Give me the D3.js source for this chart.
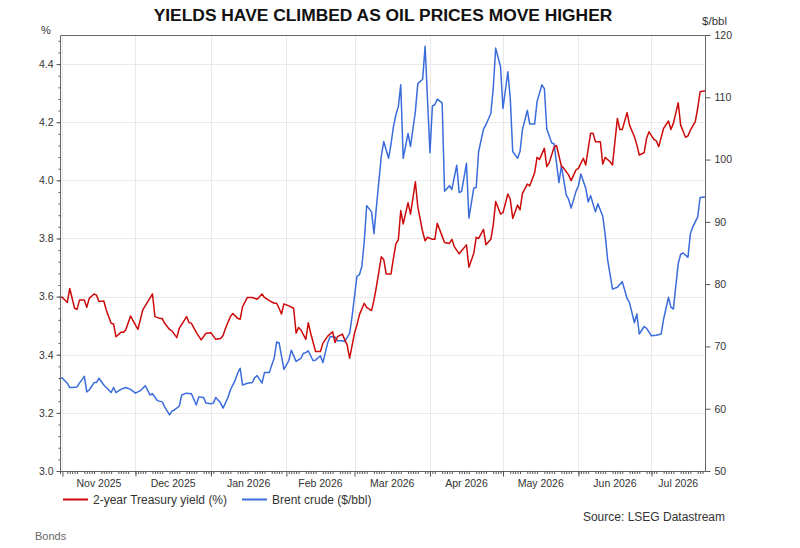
<!DOCTYPE html>
<html>
<head>
<meta charset="utf-8">
<script src="https://cdn.jsdelivr.net/npm/d3@7"></script>
<style>
    body { margin: 0; background: #fff; }
    svg { font-family: "Liberation Sans", Arial, sans-serif; }
    .axis path.domain { display: none; }
    .axis line { stroke: #555; }
    .axis text { fill: #333; font-size: 10.5px; }
</style>
</head>
<body>
<div id="chart"></div>
<script>
var chartTitle = "YIELDS HAVE CLIMBED AS OIL PRICES MOVE HIGHER";
var yieldName = "2-year Treasury yield (%)";
var brentName = "Brent crude ($/bbl)";

var dateStart = "2025-10-31";
var dateEnd = "2026-07-23";

var yieldTicks = [3.0, 3.2, 3.4, 3.6, 3.8, 4.0, 4.2, 4.4];
var brentTicks = [50, 60, 70, 80, 90, 100, 110, 120];
var monthStarts = ["2025-11-01", "2025-12-01", "2026-01-01", "2026-02-01", "2026-03-01",
                   "2026-04-01", "2026-05-01", "2026-06-01", "2026-07-01"];
var monthLabels = ["Nov 2025", "Dec 2025", "Jan 2026", "Feb 2026", "Mar 2026",
                   "Apr 2026", "May 2026", "Jun 2026", "Jul 2026"];

// 2-year Treasury yield, %
var yieldData = [
    ["2025-10-31",3.600],["2025-11-01",3.597],["2025-11-03",3.580],["2025-11-04",3.628],["2025-11-06",3.560],
    ["2025-11-07",3.556],["2025-11-08",3.588],["2025-11-10",3.588],["2025-11-11",3.563],["2025-11-12",3.594],
    ["2025-11-14",3.609],["2025-11-15",3.605],["2025-11-16",3.583],["2025-11-18",3.585],["2025-11-19",3.554],
    ["2025-11-21",3.508],["2025-11-22",3.506],["2025-11-23",3.462],["2025-11-25",3.477],["2025-11-26",3.477],
    ["2025-11-27",3.485],["2025-11-29",3.533],["2025-12-02",3.487],["2025-12-04",3.554],["2025-12-08",3.609],
    ["2025-12-09",3.531],["2025-12-11",3.525],["2025-12-12",3.525],["2025-12-13",3.508],["2025-12-15",3.487],
    ["2025-12-16",3.482],["2025-12-18",3.459],["2025-12-19",3.491],["2025-12-22",3.531],["2025-12-23",3.511],
    ["2025-12-24",3.508],["2025-12-26",3.477],["2025-12-28",3.451],["2025-12-30",3.474],["2026-01-01",3.476],
    ["2026-01-03",3.453],["2026-01-05",3.456],["2026-01-06",3.466],["2026-01-07",3.491],["2026-01-09",3.531],
    ["2026-01-10",3.542],["2026-01-12",3.525],["2026-01-13",3.522],["2026-01-14",3.565],["2026-01-16",3.597],
    ["2026-01-18",3.597],["2026-01-20",3.591],["2026-01-22",3.609],["2026-01-23",3.597],["2026-01-25",3.586],
    ["2026-01-27",3.577],["2026-01-28",3.577],["2026-01-29",3.560],["2026-01-30",3.540],["2026-01-31",3.575],
    ["2026-02-02",3.568],["2026-02-04",3.560],["2026-02-05",3.474],["2026-02-06",3.494],["2026-02-07",3.485],
    ["2026-02-09",3.453],["2026-02-10",3.510],["2026-02-11",3.474],["2026-02-13",3.411],["2026-02-15",3.411],
    ["2026-02-16",3.439],["2026-02-18",3.464],["2026-02-20",3.479],["2026-02-21",3.442],["2026-02-22",3.462],
    ["2026-02-24",3.471],["2026-02-26",3.433],["2026-02-27",3.388],["2026-03-01",3.474],["2026-03-02",3.502],
    ["2026-03-03",3.537],["2026-03-05",3.577],["2026-03-06",3.563],["2026-03-08",3.552],["2026-03-09",3.588],
    ["2026-03-10",3.634],["2026-03-12",3.737],["2026-03-13",3.728],["2026-03-14",3.678],["2026-03-16",3.678],
    ["2026-03-17",3.732],["2026-03-18",3.781],["2026-03-19",3.795],["2026-03-20",3.896],["2026-03-21",3.850],
    ["2026-03-23",3.923],["2026-03-24",3.884],["2026-03-26",3.995],["2026-03-27",3.909],["2026-03-29",3.823],
    ["2026-03-30",3.792],["2026-03-31",3.804],["2026-04-02",3.797],["2026-04-03",3.797],["2026-04-04",3.852],
    ["2026-04-06",3.808],["2026-04-07",3.786],["2026-04-09",3.783],["2026-04-10",3.797],["2026-04-11",3.772],
    ["2026-04-13",3.747],["2026-04-14",3.758],["2026-04-16",3.778],["2026-04-17",3.701],["2026-04-19",3.749],
    ["2026-04-20",3.804],["2026-04-21",3.800],["2026-04-23",3.831],["2026-04-24",3.778],["2026-04-26",3.797],
    ["2026-04-27",3.846],["2026-04-28",3.927],["2026-04-30",3.884],["2026-05-01",3.889],["2026-05-03",3.953],
    ["2026-05-04",3.935],["2026-05-05",3.869],["2026-05-07",3.915],["2026-05-08",3.898],["2026-05-09",3.955],
    ["2026-05-11",3.987],["2026-05-12",3.981],["2026-05-14",4.026],["2026-05-15",4.079],["2026-05-16",4.072],
    ["2026-05-18",4.110],["2026-05-19",4.047],["2026-05-20",4.061],["2026-05-22",4.114],["2026-05-23",4.120],
    ["2026-05-25",4.049],["2026-05-26",4.041],["2026-05-28",4.018],["2026-05-29",3.999],["2026-05-31",4.036],
    ["2026-06-01",4.041],["2026-06-03",4.076],["2026-06-04",4.053],["2026-06-06",4.162],["2026-06-07",4.162],
    ["2026-06-08",4.133],["2026-06-10",4.133],["2026-06-11",4.056],["2026-06-12",4.079],["2026-06-14",4.064],
    ["2026-06-15",4.053],["2026-06-17",4.213],["2026-06-18",4.175],["2026-06-19",4.175],["2026-06-21",4.233],
    ["2026-06-22",4.190],["2026-06-24",4.150],["2026-06-25",4.122],["2026-06-26",4.087],["2026-06-28",4.095],
    ["2026-06-29",4.145],["2026-06-30",4.167],["2026-07-02",4.141],["2026-07-03",4.136],["2026-07-04",4.116],
    ["2026-07-06",4.179],["2026-07-08",4.204],["2026-07-09",4.175],["2026-07-10",4.196],["2026-07-12",4.267],
    ["2026-07-13",4.190],["2026-07-15",4.148],["2026-07-16",4.153],["2026-07-17",4.173],["2026-07-19",4.202],
    ["2026-07-20",4.248],["2026-07-21",4.305],["2026-07-23",4.308]
];

// Brent crude, $/bbl
var brentData = [
    ["2025-10-31",65.0],["2025-11-01",64.9],["2025-11-03",64.1],["2025-11-04",63.4],["2025-11-05",63.4],
    ["2025-11-07",63.5],["2025-11-08",64.1],["2025-11-10",65.2],["2025-11-11",62.7],["2025-11-12",63.0],
    ["2025-11-14",64.2],["2025-11-15",64.2],["2025-11-16",64.9],["2025-11-18",63.8],["2025-11-19",63.4],
    ["2025-11-21",62.6],["2025-11-22",63.4],["2025-11-23",62.6],["2025-11-25",63.1],["2025-11-27",63.4],
    ["2025-11-29",63.1],["2025-12-01",62.5],["2025-12-03",62.9],["2025-12-05",63.7],["2025-12-07",62.2],
    ["2025-12-08",62.4],["2025-12-10",61.3],["2025-12-12",61.1],["2025-12-13",60.3],["2025-12-15",59.0],
    ["2025-12-16",59.6],["2025-12-17",59.8],["2025-12-19",60.4],["2025-12-20",62.2],["2025-12-22",62.5],
    ["2025-12-24",62.4],["2025-12-26",60.6],["2025-12-27",61.9],["2025-12-29",61.8],["2025-12-30",60.9],
    ["2026-01-01",60.8],["2026-01-02",60.9],["2026-01-03",61.8],["2026-01-05",60.9],["2026-01-06",60.1],
    ["2026-01-08",61.8],["2026-01-09",63.0],["2026-01-11",64.6],["2026-01-12",65.7],["2026-01-13",66.5],
    ["2026-01-14",63.8],["2026-01-16",64.1],["2026-01-18",64.2],["2026-01-19",65.0],["2026-01-20",65.3],
    ["2026-01-22",64.1],["2026-01-23",65.8],["2026-01-25",65.8],["2026-01-26",67.0],["2026-01-27",68.1],
    ["2026-01-28",70.7],["2026-01-29",70.6],["2026-01-31",66.3],["2026-02-02",67.7],["2026-02-03",69.4],
    ["2026-02-05",67.6],["2026-02-07",68.1],["2026-02-08",68.9],["2026-02-09",69.0],["2026-02-10",69.3],
    ["2026-02-12",67.7],["2026-02-13",67.8],["2026-02-15",68.5],["2026-02-16",67.4],["2026-02-18",70.6],
    ["2026-02-19",71.6],["2026-02-21",71.5],["2026-02-22",70.9],["2026-02-24",70.9],["2026-02-25",70.8],
    ["2026-02-27",72.1],["2026-02-28",74.8],["2026-03-02",81.3],["2026-03-03",81.5],["2026-03-04",82.8],
    ["2026-03-05",86.8],["2026-03-06",92.6],["2026-03-08",91.6],["2026-03-09",88.1],["2026-03-10",92.4],
    ["2026-03-12",100.5],["2026-03-13",102.9],["2026-03-15",100.2],["2026-03-16",102.5],["2026-03-17",105.3],
    ["2026-03-18",107.2],["2026-03-19",108.5],["2026-03-20",112.0],["2026-03-21",100.2],["2026-03-23",104.2],
    ["2026-03-24",102.1],["2026-03-26",107.7],["2026-03-27",112.2],["2026-03-29",112.9],["2026-03-30",118.2],
    ["2026-04-01",101.1],["2026-04-02",108.6],["2026-04-03",108.8],["2026-04-04",109.7],["2026-04-06",109.1],
    ["2026-04-07",94.9],["2026-04-09",95.8],["2026-04-10",95.2],["2026-04-12",99.1],["2026-04-13",94.7],
    ["2026-04-14",94.9],["2026-04-16",99.4],["2026-04-17",90.6],["2026-04-19",95.4],["2026-04-20",95.5],
    ["2026-04-21",101.3],["2026-04-23",104.9],["2026-04-24",105.6],["2026-04-26",107.4],["2026-04-27",111.4],
    ["2026-04-28",117.9],["2026-04-30",114.9],["2026-05-01",108.2],["2026-05-03",114.1],["2026-05-04",109.8],
    ["2026-05-05",101.3],["2026-05-07",100.2],["2026-05-08",101.3],["2026-05-09",104.8],["2026-05-11",107.9],
    ["2026-05-12",105.7],["2026-05-14",105.7],["2026-05-15",109.3],["2026-05-17",112.0],["2026-05-18",111.4],
    ["2026-05-19",104.9],["2026-05-21",102.7],["2026-05-22",102.5],["2026-05-24",96.3],["2026-05-25",99.0],
    ["2026-05-27",94.3],["2026-05-28",93.6],["2026-05-29",92.2],["2026-05-31",94.9],["2026-06-01",95.8],
    ["2026-06-02",97.7],["2026-06-04",95.4],["2026-06-05",93.2],["2026-06-06",94.2],["2026-06-08",91.6],
    ["2026-06-09",92.9],["2026-06-11",90.9],["2026-06-12",87.9],["2026-06-13",83.9],["2026-06-15",79.2],
    ["2026-06-17",79.5],["2026-06-19",80.4],["2026-06-21",77.7],["2026-06-22",77.0],["2026-06-24",73.8],
    ["2026-06-25",75.2],["2026-06-26",72.0],["2026-06-28",73.2],["2026-06-29",72.9],["2026-07-01",71.7],
    ["2026-07-03",71.8],["2026-07-05",72.0],["2026-07-06",74.4],["2026-07-08",77.9],["2026-07-09",76.3],
    ["2026-07-10",76.0],["2026-07-12",83.3],["2026-07-13",84.8],["2026-07-14",85.0],["2026-07-16",84.3],
    ["2026-07-17",88.1],["2026-07-18",89.2],["2026-07-20",90.8],["2026-07-21",93.9],["2026-07-23",94.0]
];

var yieldColor = "#cc0a0a";
var brentColor = "#3a6cdb";

function drawChart() {
    const width = 800;
    const height = 548;
    const left = 60, right = 705, top = 35, bottom = 471;

    var parseDate = d3.timeParse("%Y-%m-%d");
    var start = parseDate(dateStart);
    var end = parseDate(dateEnd);

    const xScale = d3.scaleTime().domain([start, end]).range([left, right]);
    const yLeft = d3.scaleLinear().domain([3.0, 4.5]).range([bottom, top]);
    const yRight = d3.scaleLinear().domain([50, 120]).range([bottom, top]);

    var svg = d3.select("#chart")
        .append("svg")
        .attr("width", width)
        .attr("height", height)
        .attr("viewBox", "0 0 " + width + " " + height);

    svg.append("defs").append("clipPath")
        .attr("id", "plot-clip")
        .append("rect")
        .attr("x", left).attr("y", top)
        .attr("width", right - left).attr("height", bottom - top);

    // gridlines
    var grid = svg.append("g").attr("stroke", "#e9e9e9").attr("stroke-width", 1);
    grid.selectAll("line.h")
        .data(yieldTicks.filter(d => d > 3.0))
        .enter()
        .append("line")
        .attr("x1", left).attr("x2", right)
        .attr("y1", d => Math.round(yLeft(d)) + 0.5)
        .attr("y2", d => Math.round(yLeft(d)) + 0.5);
    grid.selectAll("line.v")
        .data(monthStarts)
        .enter()
        .append("line")
        .attr("y1", top).attr("y2", bottom)
        .attr("x1", d => Math.round(xScale(parseDate(d))) + 0.5)
        .attr("x2", d => Math.round(xScale(parseDate(d))) + 0.5);

    // series lines
    var yieldLine = d3.line()
        .x(d => xScale(parseDate(d[0])))
        .y(d => yLeft(d[1]));
    var brentLine = d3.line()
        .x(d => xScale(parseDate(d[0])))
        .y(d => yRight(d[1]));

    var lines = svg.append("g").attr("clip-path", "url(#plot-clip)");
    lines.append("path")
        .datum(brentData)
        .attr("d", brentLine)
        .attr("fill", "none")
        .attr("stroke", brentColor)
        .attr("stroke-width", 1.5)
        .attr("stroke-linejoin", "round");
    lines.append("path")
        .datum(yieldData)
        .attr("d", yieldLine)
        .attr("fill", "none")
        .attr("stroke", yieldColor)
        .attr("stroke-width", 1.5)
        .attr("stroke-linejoin", "round");

    // frame
    svg.append("path")
        .attr("d", "M" + (left + 0.5) + "," + (bottom + 0.5) + "V" + (top + 0.5) + "H" + (right + 0.5) + "V" + (bottom + 0.5) + "H" + (left + 0.5))
        .attr("fill", "none")
        .attr("stroke", "#666")
        .attr("stroke-width", 1);

    // left axis
    const leftMinor = d3.axisLeft(yLeft)
        .tickValues(d3.range(0, 38).map(i => 3.0 + i * 0.04))
        .tickSize(2)
        .tickFormat("");
    svg.append("g")
        .attr("class", "axis")
        .attr("transform", "translate(" + (left + 0.5) + ",0)")
        .call(leftMinor);
    const leftAxis = d3.axisLeft(yLeft)
        .tickValues(yieldTicks)
        .tickSize(4)
        .tickPadding(3)
        .tickFormat(d3.format(".1f"));
    svg.append("g")
        .attr("class", "axis")
        .attr("transform", "translate(" + (left + 0.5) + ",0)")
        .call(leftAxis);

    // right axis
    const rightAxis = d3.axisRight(yRight)
        .tickValues(brentTicks)
        .tickSize(5)
        .tickPadding(4);
    svg.append("g")
        .attr("class", "axis")
        .attr("transform", "translate(" + (right + 0.5) + ",0)")
        .call(rightAxis);

    // bottom axis: weekday minor ticks, month major ticks
    const weekdays = d3.timeDay.range(start, end).filter(d => d.getDay() % 6 != 0);
    const xMinor = d3.axisBottom(xScale)
        .tickValues(weekdays)
        .tickSize(2.5)
        .tickFormat("");
    svg.append("g")
        .attr("class", "axis")
        .attr("transform", "translate(0," + (bottom + 0.5) + ")")
        .call(xMinor);
    const xAxis = d3.axisBottom(xScale)
        .tickValues(monthStarts.map(parseDate))
        .tickSize(5)
        .tickFormat("");
    svg.append("g")
        .attr("class", "axis")
        .attr("transform", "translate(0," + (bottom + 0.5) + ")")
        .call(xAxis);

    // month labels centred in each month
    svg.append("g")
        .selectAll("text")
        .data(monthLabels)
        .enter()
        .append("text")
        .attr("x", function(d, i) {
            var a = xScale(parseDate(monthStarts[i]));
            var b = i + 1 < monthStarts.length ? xScale(parseDate(monthStarts[i + 1])) : right;
            return (a + b) / 2;
        })
        .attr("y", bottom + 16)
        .attr("text-anchor", "middle")
        .attr("font-size", "10.5px")
        .attr("fill", "#333")
        .text(d => d);

    // axis units
    svg.append("text")
        .attr("x", 46).attr("y", 34)
        .attr("text-anchor", "middle")
        .attr("font-size", "11px")
        .attr("fill", "#333")
        .text("%");
    svg.append("text")
        .attr("x", 727).attr("y", 25)
        .attr("text-anchor", "end")
        .attr("font-size", "11.5px")
        .attr("fill", "#333")
        .text("$/bbl");

    // title
    svg.append("text")
        .attr("x", 383).attr("y", 21)
        .attr("text-anchor", "middle")
        .attr("font-size", "17.4px")
        .attr("font-weight", "bold")
        .attr("fill", "#111")
        .text(chartTitle);

    // legend
    var legend = [
        {name: yieldName, color: yieldColor, x: 63},
        {name: brentName, color: brentColor, x: 242}
    ];
    var items = svg.append("g").selectAll("g")
        .data(legend)
        .enter()
        .append("g")
        .attr("transform", d => "translate(" + d.x + ",499)");
    items.append("line")
        .attr("x1", 0).attr("x2", 25)
        .attr("y1", 0.5).attr("y2", 0.5)
        .attr("stroke", d => d.color)
        .attr("stroke-width", 2);
    items.append("text")
        .attr("x", 30).attr("y", 4.5)
        .attr("font-size", "12px")
        .attr("fill", "#333")
        .text(d => d.name);

    svg.append("text")
        .attr("x", 725).attr("y", 521)
        .attr("text-anchor", "end")
        .attr("font-size", "12px")
        .attr("fill", "#333")
        .text("Source: LSEG Datastream");

    svg.append("text")
        .attr("x", 35).attr("y", 540)
        .attr("font-size", "11px")
        .attr("fill", "#666")
        .text("Bonds");
}

drawChart();
</script>
</body>
</html>
